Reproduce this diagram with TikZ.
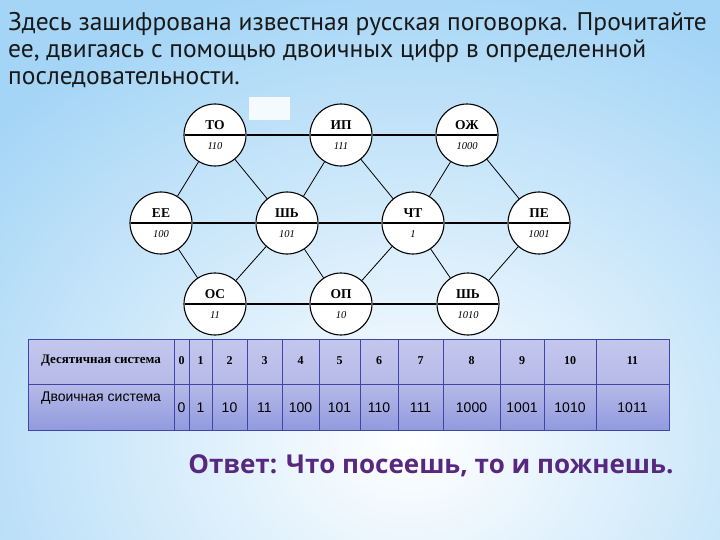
\documentclass[tikz,border=0pt]{standalone}
\usepackage{fontspec}
\setmainfont{Liberation Serif}
\newfontfamily\headfont{PT Sans}
\newfontfamily\answerfont{Open Sans}
\newfontfamily\tabsans{Liberation Sans}
\newcommand\codefont{\normalfont\itshape\fontsize{10.5}{11}\selectfont\rule{0pt}{12.5pt}}
\newcommand\sylup{\rule[-3.5pt]{0pt}{0pt}}
\usetikzlibrary{shapes.multipart,backgrounds}
\definecolor{bgblue}{RGB}{164,213,246}
\definecolor{tabtop}{RGB}{196,199,236}
\definecolor{tabmid}{RGB}{182,186,232}
\definecolor{tablow}{RGB}{146,154,222}
\definecolor{gridblue}{RGB}{62,70,170}
\definecolor{answer}{RGB}{88,40,128}

\begin{document}
\begin{tikzpicture}[x=1pt, y=-1pt,
  syl/.style={circle split, draw, line width=1.1pt, fill=white,
              minimum size=62pt, inner sep=1pt,
              font=\bfseries\fontsize{13.5}{14}\selectfont},
  hline/.style={line width=1.7pt},
  dline/.style={line width=0.8pt},
  grid/.style={draw=gridblue, line width=0.6pt},
  dec/.style={font=\bfseries\fontsize{12}{13}\selectfont},
  bin/.style={font=\tabsans\fontsize{14}{15}\selectfont}
]
\useasboundingbox (0,0) rectangle (720,540);
\begin{scope}[on background layer]
  \fill[bgblue] (0,0) rectangle (720,540);
  \clip (0,0) rectangle (720,540);
  \shade[inner color=white, outer color=bgblue] (410,440) ellipse (560 and 470);
\end{scope}

\node[anchor=north west, align=left, inner sep=0pt, text=black!90,
      font=\headfont\fontsize{25.5}{27}\selectfont] (task) at (8,12)
  {Здесь зашифрована известная русская поговорка. Прочитайте\\
   ее, двигаясь с помощью двоичных цифр в определенной\\
   последовательности.};

\fill[white, opacity=0.85] (249,97) rectangle (290,120);

\node[syl] (to)   at (215,135) {ТО\sylup\nodepart{lower}{\codefont 110}};
\node[syl] (ip)   at (341,135) {ИП\sylup\nodepart{lower}{\codefont 111}};
\node[syl] (ozh)  at (467,135) {ОЖ\sylup\nodepart{lower}{\codefont 1000}};
\node[syl] (ee)   at (161,223) {ЕЕ\sylup\nodepart{lower}{\codefont 100}};
\node[syl] (shb)  at (287,223) {ШЬ\sylup\nodepart{lower}{\codefont 101}};
\node[syl] (cht)  at (413,223) {ЧТ\sylup\nodepart{lower}{\codefont 1}};
\node[syl] (pe)   at (539,223) {ПЕ\sylup\nodepart{lower}{\codefont 1001}};
\node[syl] (os)   at (215,304) {ОС\sylup\nodepart{lower}{\codefont 11}};
\node[syl] (op)   at (341,304) {ОП\sylup\nodepart{lower}{\codefont 10}};
\node[syl] (shbb) at (468,304) {ШЬ\sylup\nodepart{lower}{\codefont 1010}};

\begin{scope}[on background layer]
\draw[hline] (to) -- (ip);
\draw[hline] (ip) -- (ozh);
\draw[hline] (ee) -- (shb);
\draw[hline] (shb) -- (cht);
\draw[hline] (cht) -- (pe);
\draw[hline] (os) -- (op);
\draw[hline] (op) -- (shbb);
\draw[dline] (to) -- (ee);
\draw[dline] (to) -- (shb);
\draw[dline] (ip) -- (shb);
\draw[dline] (ip) -- (cht);
\draw[dline] (ozh) -- (cht);
\draw[dline] (ozh) -- (pe);
\draw[dline] (ee) -- (os);
\draw[dline] (shb) -- (os);
\draw[dline] (shb) -- (op);
\draw[dline] (cht) -- (op);
\draw[dline] (cht) -- (shbb);
\draw[dline] (pe) -- (shbb);
\end{scope}

\shade[top color=tabtop, bottom color=tabmid] (28,339) rectangle (669,384);
\shade[top color=tabmid, bottom color=tablow] (28,384) rectangle (669,430);
\draw[grid] (28,339) rectangle (669,430);
\draw[grid] (28,384) -- (669,384);
\foreach \x in {174,189,212,247,282,319,360,398,443,500,544,596}
  \draw[grid] (\x,339) -- (\x,430);

\node[dec, font=\bfseries\fontsize{13}{14}\selectfont] (declab) at (101,361) {Десятичная система};
\node[bin, font=\tabsans\fontsize{14}{15}\selectfont] (binlab) at (101,398) {Двоичная система};
\foreach \a/\b/\d/\n in {174/189/0/0, 189/212/1/1, 212/247/2/10, 247/282/3/11,
    282/319/4/100, 319/360/5/101, 360/398/6/110, 398/443/7/111,
    443/500/8/1000, 500/544/9/1001, 544/596/10/1010, 596/669/11/1011} {
  \node[dec] (d\d) at ({(\a+\b)/2},361) {\d};
  \node[bin] (b\d) at ({(\a+\b)/2},408) {\n};
}

\node[text=answer, font=\answerfont\bfseries\fontsize{26}{30}\selectfont]
  (reply) at (431,466) {Ответ: Что посеешь, то и пожнешь.};
\end{tikzpicture}
\end{document}
